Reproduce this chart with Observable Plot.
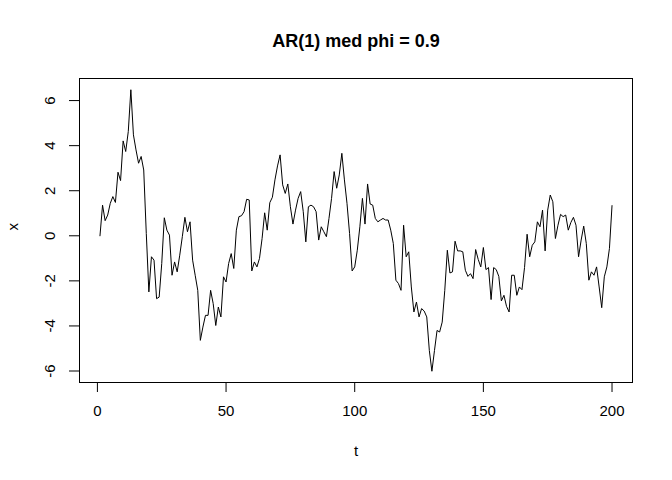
<!DOCTYPE html>
<html><head><meta charset="utf-8">
<script src="https://cdn.jsdelivr.net/npm/d3@7"></script>
<script src="https://cdn.jsdelivr.net/npm/@observablehq/plot@0.6"></script>
<style>body{margin:0;background:#fff}</style>
</head><body><div id="chart"></div>
<script>
const title = "AR(1) med phi = 0.9";
const xLabel = "t";
const yLabel = "x";
const xTicks = [0, 50, 100, 150, 200];
const yTicks = [-6, -4, -2, 0, 2, 4, 6];
const values = [
  0, 1.36, 0.67, 0.92, 1.44, 1.74, 1.48, 2.82, 2.45, 4.21,
  3.74, 4.63, 6.48, 4.48, 3.81, 3.22, 3.52, 2.92, 0.1, -2.49,
  -0.93, -1.08, -2.79, -2.72, -1.23, 0.8, 0.25, 0.03, -1.75, -1.16,
  -1.6, -0.86, -0.04, 0.82, 0.18, 0.62, -1.08, -1.75, -2.42, -4.64,
  -4.05, -3.53, -3.53, -2.42, -3.01, -3.98, -3.16, -3.6, -1.82, -2.05,
  -1.23, -0.79, -1.45, 0.25, 0.85, 0.89, 1.07, 1.62, 1.59, -1.56,
  -1.16, -1.38, -1.0, -0.12, 1.02, 0.25, 1.47, 1.71, 2.48, 3.1,
  3.59, 2.26, 1.88, 2.3, 1.29, 0.52, 1.14, 1.66, 1.96, 1.07,
  -0.27, 1.29, 1.36, 1.29, 1.07, -0.19, 0.4, 0.18, -0.04, 0.77,
  1.66, 2.85, 2.11, 2.7, 3.66, 2.48, 1.44, 0.1, -1.56, -1.38,
  -0.64, 0.4, 1.66, 0.52, 2.3, 1.41, 1.36, 0.77, 0.62, 0.7,
  0.77, 0.7, 0.7, 0.25, -0.34, -1.97, -2.12, -2.42, 0.47, -0.93,
  -0.71, -2.27, -3.38, -2.94, -3.6, -3.23, -3.34, -3.6, -5.09, -6.01,
  -5.09, -4.2, -4.27, -3.83, -2.42, -0.64, -1.65, -1.6, -0.24, -0.67,
  -0.67, -0.71, -1.53, -1.8, -1.68, -1.9, -0.61, -1.05, -1.38, -0.52,
  -1.5, -1.41, -2.83, -1.41, -1.5, -1.8, -2.89, -2.64, -3.13, -3.38,
  -1.75, -1.75, -2.64, -2.27, -2.39, -1.41, 0.07, -0.93, -0.42, -0.27,
  0.62, 0.4, 1.14, -0.67, 1.14, 1.81, 1.51, -0.12, 0.47, 0.95,
  0.85, 0.92, 0.25, 0.59, 0.82, 0.47, -0.93, -0.19, 0.43, -0.34,
  -1.97, -1.6, -1.75, -1.38, -2.27, -3.19, -1.82, -1.38, -0.56, 1.34
];
const tIndex = d3.range(1, values.length + 1);
const data = values.map((v, i) => ({t: tIndex[i], x: v}));
const expand = (e) => { const s = (e[1] - e[0]) * 0.04; return [e[0] - s, e[1] + s]; };

const font = "'Liberation Sans', Arial, Helvetica, sans-serif";
const chart = Plot.plot({
  width: 672,
  height: 480,
  marginLeft: 79,
  marginRight: 40,
  marginTop: 78,
  marginBottom: 98,
  style: {fontFamily: font, fontSize: "15px", color: "black", background: "white"},
  x: {domain: expand(d3.extent(tIndex)), axis: null},
  y: {domain: expand(d3.extent(values)), axis: null},
  marks: [
    Plot.frame({stroke: "black", strokeWidth: 1}),
    Plot.axisX({ticks: xTicks, tickSize: 10, tickFormat: () => "", label: null, stroke: "black"}),
    Plot.axisY({ticks: yTicks, tickSize: 10, tickFormat: () => "", label: null, stroke: "black"}),
    Plot.text(xTicks, {x: d => d, frameAnchor: "bottom", dy: 29, lineAnchor: "middle", text: d => String(d), fontSize: 15, fill: "black"}),
    Plot.text(yTicks, {y: d => d, frameAnchor: "left", dx: -29, rotate: -90, textAnchor: "middle", lineAnchor: "middle", text: d => String(d), fontSize: 15, fill: "black"}),
    Plot.line(data, {x: "t", y: "x", stroke: "black", strokeWidth: 1}),
    Plot.text([xLabel], {frameAnchor: "bottom", dy: 69, lineAnchor: "middle", text: d => d, fontSize: 15, fill: "black"}),
    Plot.text([yLabel], {frameAnchor: "left", dx: -66, rotate: -90, lineAnchor: "middle", text: d => d, fontSize: 15, fill: "black"}),
    Plot.text([title], {frameAnchor: "top", dy: -37, lineAnchor: "middle", text: d => d, fontSize: 18, fontWeight: "bold", fill: "black"})
  ]
});
document.getElementById("chart").appendChild(chart);
</script>
</body></html>
